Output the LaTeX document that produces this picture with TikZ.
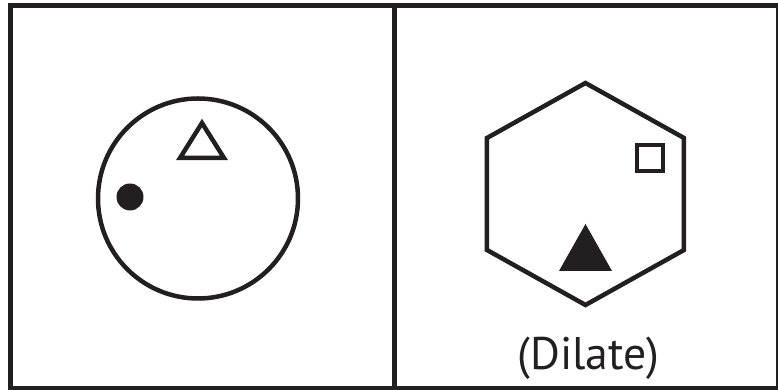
\documentclass[tikz,border=0pt]{standalone}
\usepackage{fontspec}
\setmainfont{PT Sans}
\usepackage{tikz}
\usepackage{xcolor}
\definecolor{ink}{HTML}{231F20}
\tikzset{
  frame/.style={draw=ink,line width=0.052cm,line join=miter},
  outline/.style={draw=ink,line width=0.045cm,line join=miter},
  solidmark/.style={fill=ink,draw=none},
  caption/.style={font=\fontsize{13}{15}\selectfont,text=ink,inner sep=0pt}
}

\begin{document}
\begin{tikzpicture}[x=1cm,y=1cm]
    \path[use as bounding box] (0,0) rectangle (7.78,3.90);

    % panels
    \draw[frame] (0.105,0.015) rectangle (7.785,3.845);
    \draw[frame] (3.945,0.015) -- (3.945,3.845);

    % left panel
    \draw[outline] (1.98,1.915) circle [radius=1.00];
    \fill[solidmark] (1.30,1.93) circle [radius=0.135];
    \draw[outline] (2.02,2.67) -- (1.80,2.32) -- (2.24,2.32) -- cycle;

    % right panel
    \draw[outline] (5.855,3.07) -- (6.84,2.52) -- (6.84,1.40) -- (5.855,0.85)
      -- (4.87,1.40) -- (4.87,2.52) -- cycle;
    \draw[outline] (6.37,2.19) rectangle (6.63,2.45);
    \fill[solidmark] (5.855,1.66) -- (5.59,1.19) -- (6.12,1.19) -- cycle;
    \node[caption] (dilate) at (5.885,0.32) {(Dilate)};
  \end{tikzpicture}
\end{document}
